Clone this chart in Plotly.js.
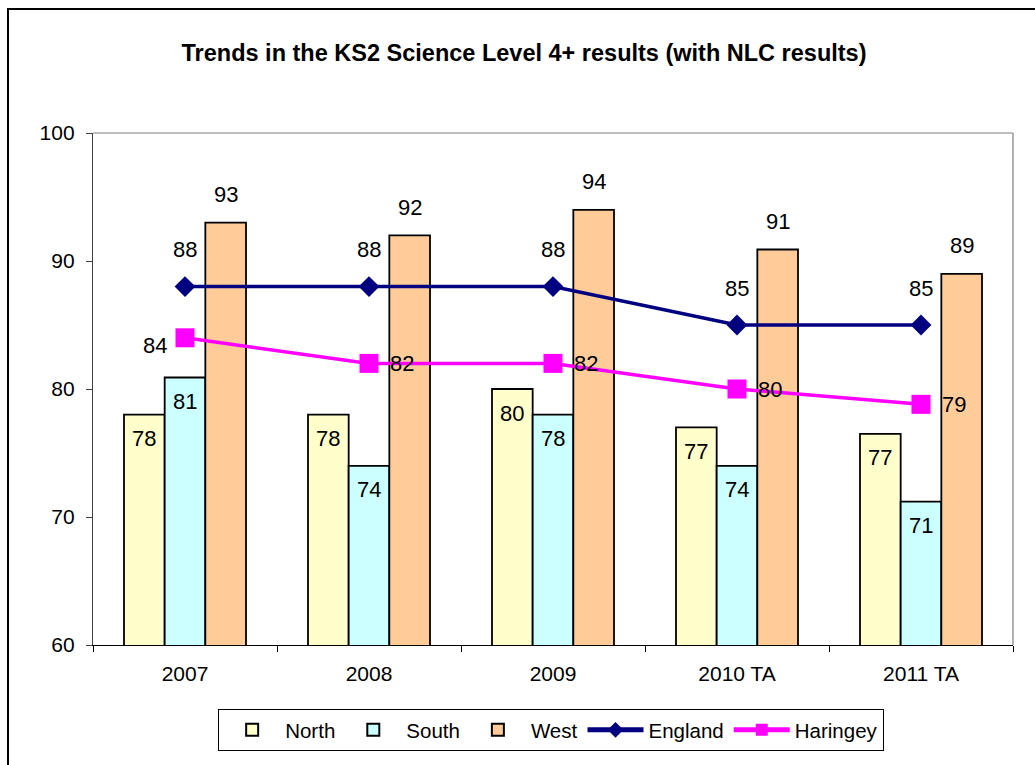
<!DOCTYPE html>
<html>
<head>
<meta charset="utf-8">
<script src="https://cdn.plot.ly/plotly-3.0.1.min.js"></script>
<style>
  html, body { margin: 0; padding: 0; overflow: hidden; background: #fff; }
  #chart { width: 1035px; height: 765px; }
  #frame { position: absolute; left: 7px; top: 8px; width: 1100px; height: 1000px;
           border: 2px solid #000; pointer-events: none; box-sizing: border-box; }
</style>
</head>
<body>
<div id="chart"></div>
<div id="frame"></div>
<script>
// ---- data ----
const categories = ['2007', '2008', '2009', '2010 TA', '2011 TA'];
const north    = [78, 78, 80, 77, 76.5];
const south    = [80.9, 74, 78, 74, 71.2];
const west     = [93, 92, 94, 90.9, 89];
const england  = [88, 88, 88, 85, 85];
const haringey = [84, 82, 82, 80, 78.8];
const haringeyLabelSide = ['left', 'right', 'right', 'right', 'right'];

// ---- style ----
const FONT = 'Liberation Sans, Arial, Helvetica, sans-serif';
const BARGAP = 0.337;
const barW = (1 - BARGAP) / 3;
const labelFont = { family: FONT, size: 22, color: '#000' };

const barLine = { color: '#000', width: 1.8 };
const traces = [
  { type: 'bar', name: 'North', x: categories, y: north,
    marker: { color: '#FFFFCC', line: barLine }, hoverinfo: 'x+y' },
  { type: 'bar', name: 'South', x: categories, y: south,
    marker: { color: '#CCFFFF', line: barLine }, hoverinfo: 'x+y' },
  { type: 'bar', name: 'West', x: categories, y: west,
    marker: { color: '#FFCC99', line: barLine }, hoverinfo: 'x+y' },
  { type: 'scatter', mode: 'lines+markers', name: 'England', x: categories, y: england,
    line: { color: '#000080', width: 3.5 },
    marker: { symbol: 'diamond', size: 16, color: '#000080' } },
  { type: 'scatter', mode: 'lines+markers', name: 'Haringey', x: categories, y: haringey,
    line: { color: '#FF00FF', width: 3.5 },
    marker: { symbol: 'square', size: 19, color: '#FF00FF' } }
];

// ---- data labels (placed through the axes) ----
const annotations = [];
categories.forEach((c, i) => {
  annotations.push({ x: i - barW, y: north[i], text: String(Math.round(north[i])),
    yanchor: 'middle', yshift: -24, showarrow: false, font: labelFont });
  annotations.push({ x: i, y: south[i], text: String(Math.round(south[i])),
    yanchor: 'middle', yshift: -24, showarrow: false, font: labelFont });
  annotations.push({ x: i + barW, y: west[i], text: String(Math.round(west[i])),
    yanchor: 'middle', yshift: 28, showarrow: false, font: labelFont });
  annotations.push({ x: i, y: england[i], text: String(Math.round(england[i])),
    yanchor: 'middle', yshift: 37, showarrow: false, font: labelFont });
  const left = haringeyLabelSide[i] === 'left';
  annotations.push({ x: i, y: haringey[i], text: String(Math.round(haringey[i])),
    yanchor: 'middle', xanchor: 'center', xshift: left ? -30 : 33, yshift: left ? -8 : 0,
    showarrow: false, font: labelFont });
});

const layout = {
  width: 1035, height: 765,
  margin: { l: 93, r: 22, t: 133, b: 120, pad: 0 },
  paper_bgcolor: '#fff', plot_bgcolor: '#fff',
  font: { family: FONT, size: 21, color: '#000' },
  title: { text: 'Trends in the KS2 Science Level 4+ results (with NLC results)',
    font: { family: FONT, size: 23.5, weight: 'bold', color: '#000' },
    x: 0.5063, xanchor: 'center', xref: 'container',
    y: 0.9307, yanchor: 'middle', yref: 'container' },
  barmode: 'group', bargap: BARGAP, bargroupgap: 0,
  showlegend: true,
  legend: { orientation: 'h', x: 0.498, xanchor: 'center', y: -0.125, yanchor: 'top',
    bordercolor: '#000', borderwidth: 1, bgcolor: '#fff',
    font: { family: FONT, size: 20.5, color: '#000' },
    itemwidth: 56, itemsizing: 'constant', traceorder: 'normal' },
  xaxis: { type: 'category', showgrid: false, zeroline: false,
    showline: true, linecolor: '#000', linewidth: 1,
    ticks: 'outside', tickson: 'boundaries', ticklen: 6, tickcolor: '#000', tickwidth: 1,
    ticklabelstandoff: 10,
    tickfont: { family: FONT, size: 21, color: '#000' } },
  yaxis: { range: [60, 100], dtick: 10, showgrid: false, zeroline: false,
    showline: true, linecolor: '#404040', linewidth: 1.2,
    ticks: 'outside', ticklen: 6, tickcolor: '#404040', tickwidth: 1,
    ticklabelstandoff: 7,
    tickfont: { family: FONT, size: 21, color: '#000' } },
  shapes: [
    { type: 'line', xref: 'paper', yref: 'paper', x0: 0, x1: 1, y0: 1, y1: 1,
      line: { color: '#808080', width: 1.2 } },
    { type: 'line', xref: 'paper', yref: 'paper', x0: 1, x1: 1, y0: 0, y1: 1,
      line: { color: '#808080', width: 1.2 } }
  ],
  annotations: annotations,
  hovermode: false
};

Plotly.newPlot('chart', traces, layout, { displayModeBar: false, staticPlot: true });
</script>
</body>
</html>
